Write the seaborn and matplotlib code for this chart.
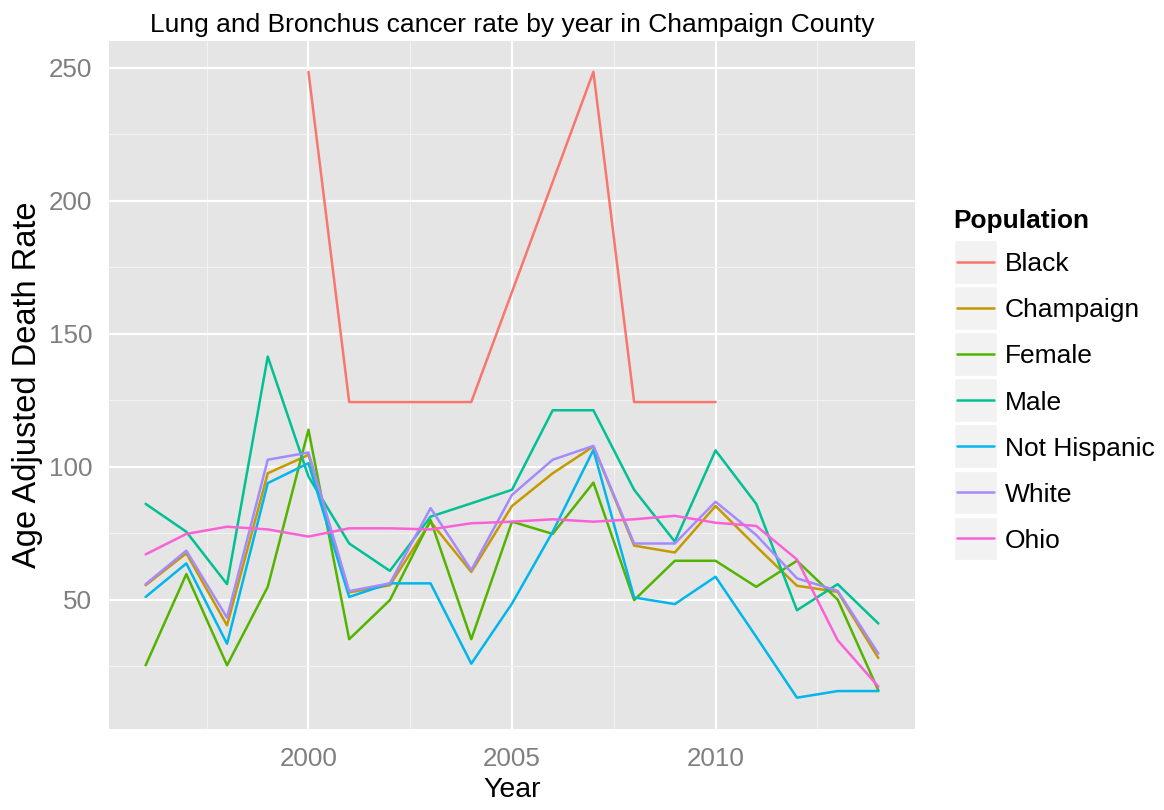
import numpy as np
import pandas as pd
import matplotlib
matplotlib.use("Agg")
import matplotlib.pyplot as plt
from matplotlib.patches import Rectangle
from matplotlib.lines import Line2D
import seaborn as sns

nan = np.nan

years = list(range(1996, 2015))

black = [nan, nan, nan, nan, 248.5, 124.3, 124.3, 124.3, 124.3, nan, nan,
         248.5, 124.3, 124.3, 124.3, nan, nan, nan, nan]
champaign = [55.4, 67.4, 40.3, 97.5, 104.4, 52.7, 55.4, 79.3, 60.4, 85.2, 97.5,
             107.6, 70.3, 67.7, 85.2, 70.0, 55.2, 52.9, 28.0]
female = [25.3, 59.6, 25.3, 54.8, 113.9, 35.1, 49.8, 79.9, 35.1, 79.3, 74.7,
          94.0, 49.8, 64.6, 64.6, 54.8, 64.6, 50.0, 15.8]
male = [86.0, 75.5, 55.8, 141.4, 96.3, 71.1, 60.8, 81.2, 86.2, 91.3, 121.2,
        121.2, 91.3, 71.8, 106.1, 86.0, 46.0, 55.8, 41.0]
not_hispanic = [51.0, 63.6, 33.4, 93.8, 101.3, 51.0, 56.1, 56.1, 25.9, 48.5, 75.5,
                106.3, 50.8, 48.3, 58.6, 36.0, 13.1, 15.6, 15.6]
white = [55.8, 68.4, 43.2, 102.6, 105.3, 53.2, 56.1, 84.4, 61.1, 89.4, 102.6,
         107.8, 71.1, 71.1, 86.8, 74.3, 58.0, 53.3, 29.7]
ohio = [67.0, 74.7, 77.4, 76.4, 73.7, 76.8, 76.8, 76.4, 78.7, 79.3, 80.2,
        79.3, 80.2, 81.5, 78.9, 77.7, 65.1, 34.7, 17.3]

populations = ["Black", "Champaign", "Female", "Male", "Not Hispanic", "White", "Ohio"]
series = [black, champaign, female, male, not_hispanic, white, ohio]
colors = ["#F8766D", "#C49A00", "#53B400", "#00C094", "#00B6EB", "#A58AFF", "#FB61D7"]

frames = []
for name, vals in zip(populations, series):
    frames.append(pd.DataFrame({"Year": years, "Rate": vals, "Population": name}))
df = pd.concat(frames, ignore_index=True).dropna()

sns.set_theme(style="darkgrid")
plt.rcParams["font.family"] = ["Liberation Sans", "DejaVu Sans"]
plt.rcParams["text.color"] = "black"

W, H = 1164, 810
fig = plt.figure(figsize=(W / 100, H / 100), dpi=100)
ax = fig.add_axes([109 / W, 1 - 729 / H, (915 - 109) / W, (729 - 40.5) / H])
ax.set_facecolor("#E5E5E5")

sns.lineplot(data=df, x="Year", y="Rate", hue="Population", hue_order=populations,
             palette=colors, linewidth=1.8, ax=ax, legend=False,
             estimator=None, sort=True)

# ggplot-style expansion of limits
x0, x1 = min(years), max(years)
xp = 0.05 * (x1 - x0)
ax.set_xlim(x0 - xp, x1 + xp)
lo, hi = df["Rate"].min(), df["Rate"].max()
yp = 0.05 * (hi - lo)
ax.set_ylim(lo - yp, hi + yp)

ax.set_xticks([2000, 2005, 2010])
ax.set_xticks([1997.5, 2002.5, 2007.5, 2012.5], minor=True)
ax.set_yticks([50, 100, 150, 200, 250])
ax.set_yticks([25, 75, 125, 175, 225], minor=True)
ax.grid(which="major", color="white", linewidth=1.6)
ax.grid(which="minor", color="#F2F2F2", linewidth=0.8)
ax.set_axisbelow(True)
for s in ax.spines.values():
    s.set_visible(False)

ax.tick_params(axis="both", which="major", colors="#7F7F7F", labelsize=18.7,
               length=7, width=1.5, labelcolor="#7F7F7F")
ax.tick_params(axis="x", which="major", pad=6)
ax.tick_params(axis="y", which="major", pad=5)
ax.tick_params(axis="both", which="minor", length=0)

ax.set_xlabel("Year", fontsize=20.5, color="black", labelpad=4)
ax.set_ylabel("Age Adjusted Death Rate", fontsize=23.5, color="black", labelpad=4)
ax.set_title("Lung and Bronchus cancer rate by year in Champaign County",
             fontsize=19, color="black", pad=6)

# Legend drawn in figure pixel coordinates
def fx(px):
    return px / W

def fy(py):
    return 1 - py / H

fig.text(fx(953), fy(228), "Population", fontsize=18.9, fontweight="bold",
         color="black", ha="left", va="baseline")
key_top = 240.0
key_step = 46.1
key_h = 43.5
for i, (name, col) in enumerate(zip(populations, colors)):
    top = key_top + i * key_step
    fig.add_artist(Rectangle((fx(954), fy(top + key_h)), (997 - 954) / W, key_h / H,
                             facecolor="#F2F2F2", edgecolor="white", linewidth=1,
                             transform=fig.transFigure))
    cy = top + key_h / 2
    fig.add_artist(Line2D([fx(957), fx(994)], [fy(cy), fy(cy)], color=col,
                          linewidth=1.8, transform=fig.transFigure))
    fig.text(fx(1005), fy(cy), name, fontsize=19, color="black",
             ha="left", va="center_baseline")

fig.savefig("out.png", dpi=100)
